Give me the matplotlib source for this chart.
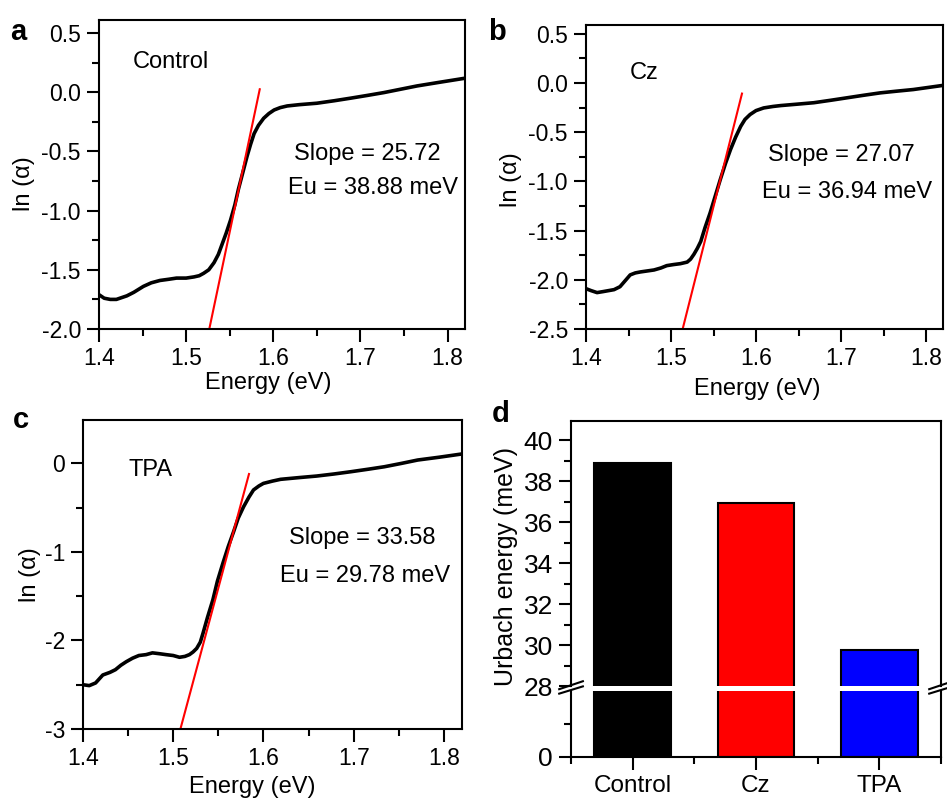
import matplotlib
matplotlib.use('Agg')
import matplotlib.pyplot as plt
from matplotlib.ticker import MultipleLocator, FixedLocator

plt.rcParams['font.family'] = ['Liberation Sans', 'DejaVu Sans']

# datos
energy_a = [1.400, 1.406, 1.413, 1.420, 1.432, 1.440, 1.451, 1.460, 1.470, 1.480, 1.489, 1.500,
            1.509, 1.515, 1.520, 1.526, 1.532, 1.537, 1.541, 1.546, 1.551, 1.556, 1.560, 1.565,
            1.570, 1.574, 1.578, 1.583, 1.589, 1.595, 1.601, 1.608, 1.616, 1.630, 1.650, 1.670,
            1.689, 1.708, 1.727, 1.746, 1.765, 1.790, 1.819]
ln_a = [-1.71, -1.74, -1.75, -1.75, -1.72, -1.69, -1.64, -1.61, -1.59, -1.58, -1.57, -1.57,
        -1.56, -1.55, -1.53, -1.50, -1.44, -1.37, -1.29, -1.19, -1.08, -0.95, -0.82, -0.68,
        -0.54, -0.44, -0.35, -0.28, -0.22, -0.18, -0.15, -0.13, -0.116, -0.105, -0.093, -0.072,
        -0.05, -0.027, -0.003, 0.025, 0.053, 0.083, 0.117]
fit_a_x = [1.5266, 1.5845]
fit_a_y = [-2.0, 0.025]

energy_b = [1.400, 1.406, 1.413, 1.420, 1.433, 1.440, 1.444, 1.452, 1.458, 1.464, 1.472, 1.480,
            1.488, 1.495, 1.503, 1.511, 1.519, 1.523, 1.527, 1.531, 1.535, 1.540, 1.546, 1.552,
            1.558, 1.564, 1.570, 1.576, 1.582, 1.587, 1.593, 1.600, 1.609, 1.620, 1.629, 1.648,
            1.668, 1.688, 1.707, 1.726, 1.746, 1.765, 1.785, 1.800, 1.819]
ln_b = [-2.09, -2.11, -2.13, -2.12, -2.10, -2.07, -2.03, -1.95, -1.93, -1.92, -1.91, -1.90,
        -1.88, -1.856, -1.845, -1.836, -1.82, -1.79, -1.74, -1.68, -1.61, -1.47, -1.32, -1.15,
        -0.98, -0.82, -0.676, -0.55, -0.44, -0.37, -0.32, -0.28, -0.253, -0.238, -0.229, -0.215,
        -0.20, -0.175, -0.15, -0.125, -0.10, -0.083, -0.066, -0.048, -0.025]
fit_b_x = [1.5137, 1.5835]
fit_b_y = [-2.5, -0.107]

energy_c = [1.400, 1.407, 1.414, 1.422, 1.430, 1.436, 1.442, 1.448, 1.455, 1.462, 1.470, 1.477,
            1.485, 1.492, 1.500, 1.507, 1.513, 1.518, 1.522, 1.526, 1.530, 1.533, 1.538, 1.544,
            1.549, 1.555, 1.561, 1.567, 1.572, 1.578, 1.584, 1.589, 1.595, 1.600, 1.610, 1.619,
            1.640, 1.659, 1.678, 1.697, 1.716, 1.734, 1.753, 1.771, 1.795, 1.819]
ln_c = [-2.50, -2.51, -2.48, -2.39, -2.36, -2.33, -2.28, -2.24, -2.20, -2.17, -2.16, -2.14,
        -2.15, -2.16, -2.17, -2.19, -2.18, -2.16, -2.13, -2.09, -2.02, -1.92, -1.74, -1.54,
        -1.33, -1.13, -0.94, -0.77, -0.62, -0.49, -0.38, -0.30, -0.255, -0.226, -0.20, -0.18,
        -0.16, -0.143, -0.12, -0.094, -0.066, -0.038, 0.0, 0.038, 0.07, 0.105]
fit_c_x = [1.508, 1.584]
fit_c_y = [-3.0, -0.12]

samples = ['Control', 'Cz', 'TPA']
slopes = ['25.72', '27.07', '33.58']
urbach = [38.88, 36.94, 29.78]
bar_colors = ['black', 'red', 'blue']

fig = plt.figure(figsize=(9.47, 8), dpi=100)


def estilo(ax, ls=16.5):
    for s in ax.spines.values():
        s.set_linewidth(1.5)
    ax.tick_params(which='both', direction='out', width=1.5, top=False, right=False,
                   labelsize=ls)
    ax.tick_params(which='major', length=9, pad=4)
    ax.tick_params(which='minor', length=5)


def panel_curva(rect, x, y, fx, fy, ylim, ymaj, ymin, nombre, nombre_pos, slope, eu,
                txt_pos, letra, xl, yl, fmt):
    ax = fig.add_axes(rect)
    ax.plot(x, y, color='black', lw=2.6)
    ax.plot(fx, fy, color='red', lw=1.5)
    ax.set_xlim(1.4, 1.82)
    ax.set_ylim(*ylim)
    ax.xaxis.set_major_locator(MultipleLocator(0.1))
    ax.xaxis.set_minor_locator(MultipleLocator(0.05))
    ax.yaxis.set_major_locator(MultipleLocator(ymaj))
    ax.yaxis.set_minor_locator(MultipleLocator(ymin))
    ax.yaxis.set_major_formatter(plt.FuncFormatter(lambda v, p: fmt.format(v).replace('-0.0', '0.0')))
    estilo(ax)
    ax.set_xlabel('Energy (eV)', fontsize=17)
    ax.xaxis.set_label_coords(*xl)
    ax.set_ylabel('ln (\u03b1)', fontsize=17)
    ax.yaxis.set_label_coords(*yl)
    ax.text(nombre_pos[0], nombre_pos[1], nombre, fontsize=17, ha='left', va='center')
    ax.text(txt_pos[0], txt_pos[1], 'Slope = ' + slope, fontsize=17, ha='center', va='center')
    ax.text(txt_pos[2], txt_pos[3], 'Eu = %.2f meV' % eu, fontsize=17, ha='center', va='center')
    fig.text(letra[0], letra[1], letra[2], fontsize=21, fontweight='bold', ha='left', va='center')
    return ax


panel_curva([0.1045, 0.58875, 0.3865, 0.38625], energy_a, ln_a, fit_a_x, fit_a_y,
            (-2.0, 0.61), 0.5, 0.25, samples[0], (1.439, 0.255), slopes[0], urbach[0],
            (1.708, -0.52, 1.715, -0.81), (10 / 947, 1 - 32 / 800, 'a'),
            (0.462, -0.14), (-0.175, 0.47), '{:.1f}')

panel_curva([0.6188, 0.58875, 0.377, 0.38], energy_b, ln_b, fit_b_x, fit_b_y,
            (-2.5, 0.59), 0.5, 0.25, samples[1], (1.452, 0.103), slopes[1], urbach[1],
            (1.701, -0.73, 1.707, -1.107), (488 / 947, 1 - 32 / 800, 'b'),
            (0.479, -0.162), (-0.18, 0.49), '{:.1f}')

panel_curva([0.0876, 0.08875, 0.4002, 0.38625], energy_c, ln_c, fit_c_x, fit_c_y,
            (-3.0, 0.49), 1, 0.5, samples[2], (1.451, -0.08), slopes[2], urbach[2],
            (1.709, -0.846, 1.713, -1.274), (13 / 947, 1 - 420 / 800, 'c'),
            (0.446, -0.152), (-0.11, 0.5), '{:.0f}')

# panel d con eje cortado
pos = [1, 2, 3]
ax_up = fig.add_axes([0.603, 0.1425, 0.3907, 0.33125])
ax_lo = fig.add_axes([0.603, 0.05375, 0.3907, 0.0825])
for ax in (ax_up, ax_lo):
    ax.bar(pos, urbach, width=0.62, color=bar_colors, edgecolor='black', linewidth=1.5)
    ax.set_xlim(0.5, 3.5)
    estilo(ax, 19)
ax_up.set_ylim(28, 40.93)
ax_up.yaxis.set_major_locator(MultipleLocator(2))
ax_up.yaxis.set_minor_locator(MultipleLocator(1))
ax_up.spines['bottom'].set_visible(False)
ax_up.tick_params(which='both', bottom=False, labelbottom=False)

ax_lo.set_ylim(0, 20)
ax_lo.yaxis.set_major_locator(FixedLocator([0]))
ax_lo.yaxis.set_minor_locator(FixedLocator([10]))
ax_lo.spines['top'].set_visible(False)
ax_lo.set_xticks(pos)
ax_lo.set_xticklabels(samples, fontsize=17.5)
ax_lo.xaxis.set_minor_locator(FixedLocator([0.5, 1.5, 2.5, 3.5]))

# marcas del corte
d = 0.032
for xx in (0, 1):
    ax_up.plot([xx - d, xx + d], [-0.012, 0.018], color='black', lw=1.5,
               transform=ax_up.transAxes, clip_on=False)
    ax_lo.plot([xx - d, xx + d], [0.96, 1.07], color='black', lw=1.5,
               transform=ax_lo.transAxes, clip_on=False)

fig.text(506 / 947, 1 - 566 / 800, 'Urbach energy (meV)', fontsize=18, rotation=90,
         ha='center', va='center')
fig.text(492 / 947, 1 - 414 / 800, 'd', fontsize=21, fontweight='bold', ha='left', va='center')

fig.savefig('out.png', dpi=100)
